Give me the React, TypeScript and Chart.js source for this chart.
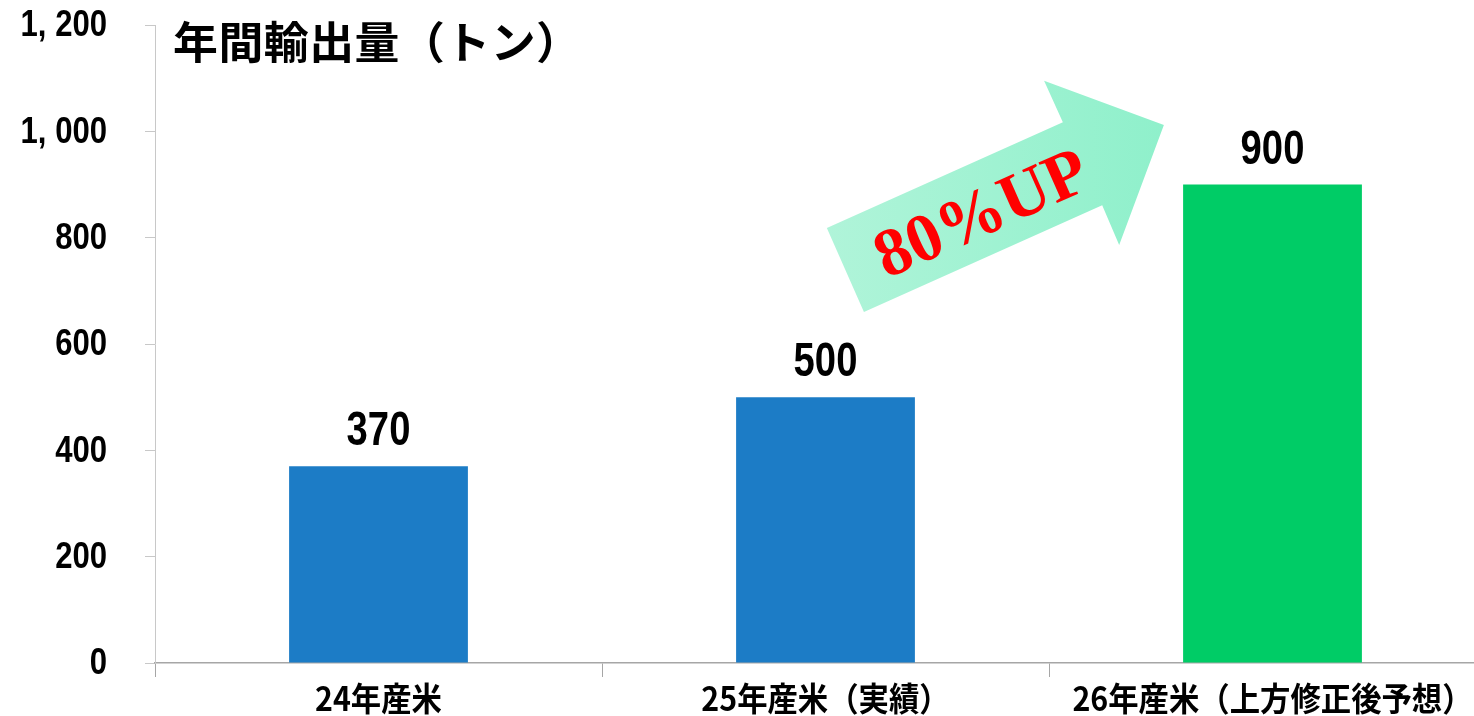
import React, { useEffect, useRef } from "react";
import { Chart, registerables } from "chart.js";
Chart.register(...registerables);

const categories = ["24年産米", "25年産米（実績）", "26年産米（上方修正後予想）"];
const exportTons = [370, 500, 900];
const barColors = ["#1c7cc6", "#1c7cc6", "#00cc66"];
const yTicks = [0, 200, 400, 600, 800, 1000, 1200];
const titleText = "年間輸出量（トン）";
const arrowText = "80%UP";
// arrow outline, in (category index, value) units
const arrowX = [1.003, 1.086, 1.619, 1.657, 1.757, 1.489, 1.531];
const arrowY = [818, 660, 861, 786, 1012, 1095, 1017];
const arrowTextPos = [1.352, 839];

const SANS = "'Liberation Sans', Arial, sans-serif";
const CJK = "'Noto Sans CJK JP', 'Noto Sans CJK SC', sans-serif";

function fmt(v: number): string {
  if (v >= 1000) return `${Math.floor(v / 1000)}, ${String(v % 1000).padStart(3, "0")}`;
  return String(v);
}

function narrowText(ctx: CanvasRenderingContext2D, text: string, x: number, y: number, sx: number) {
  ctx.save();
  ctx.translate(x, y);
  ctx.scale(sx, 1);
  ctx.fillText(text, 0, 0);
  ctx.restore();
}

const overlay = {
  id: "overlay",
  afterDatasetsDraw(chart: any) {
    const ctx = chart.ctx as CanvasRenderingContext2D;
    const xs = chart.scales.x;
    const ys = chart.scales.y;
    const area = chart.chartArea;
    ctx.save();
    ctx.fillStyle = "#000";

    // y tick labels (narrow digits)
    ctx.textAlign = "right";
    ctx.textBaseline = "middle";
    ctx.font = `bold 37px ${SANS}`;
    yTicks.forEach((v) => {
      narrowText(ctx, fmt(v), area.left - 48, ys.getPixelForValue(v) + 1, 0.84);
    });

    // value labels
    ctx.textAlign = "center";
    ctx.textBaseline = "alphabetic";
    ctx.font = `bold 49px ${SANS}`;
    const meta = chart.getDatasetMeta(0);
    meta.data.forEach((bar: any, i: number) => {
      narrowText(ctx, String(exportTons[i]), bar.x, bar.y - 21, 0.78);
    });

    // x labels (compressed CJK)
    ctx.textBaseline = "middle";
    ctx.font = `bold 33px ${CJK}`;
    categories.forEach((c, i) => {
      narrowText(ctx, c, xs.getPixelForValue(i), area.bottom + 35, 0.92);
    });

    // title
    ctx.textAlign = "left";
    ctx.font = `bold 44px ${CJK}`;
    (ctx as any).letterSpacing = "0px";
    ctx.save();
    ctx.translate(area.left + 18, area.top + 17);
    ctx.scale(1.02, 1);
    let tx = 0;
    for (const ch of titleText) {
      ctx.fillText(ch, tx, 0);
      tx += ctx.measureText(ch).width + 0.5;
    }
    ctx.restore();

    // arrow
    const pts = arrowX.map((a, i) => [xs.getPixelForValue(a), ys.getPixelForValue(arrowY[i])]);
    const minX = Math.min(...pts.map((p) => p[0]));
    const maxX = Math.max(...pts.map((p) => p[0]));
    const g = ctx.createLinearGradient(minX, 0, maxX, 0);
    g.addColorStop(0, "#b0f4d9");
    g.addColorStop(1, "#8ff0cb");
    ctx.fillStyle = g;
    ctx.beginPath();
    pts.forEach((p, i) => (i === 0 ? ctx.moveTo(p[0], p[1]) : ctx.lineTo(p[0], p[1])));
    ctx.closePath();
    ctx.fill();

    // arrow text
    ctx.save();
    ctx.translate(xs.getPixelForValue(arrowTextPos[0]), ys.getPixelForValue(arrowTextPos[1]));
    ctx.rotate((-24 * Math.PI) / 180);
    ctx.fillStyle = "#ff0000";
    ctx.textAlign = "center";
    ctx.textBaseline = "middle";
    ctx.font = `bold 68px 'Liberation Serif', 'DejaVu Serif', serif`;
    ctx.fillText(arrowText, 0, 0);
    ctx.restore();
    ctx.restore();
  },
};

export default function App() {
  const ref = useRef<HTMLCanvasElement>(null);
  useEffect(() => {
    if (!ref.current) return;
    const chart = new Chart(ref.current, {
      type: "bar",
      data: {
        labels: categories,
        datasets: [
          {
            data: exportTons,
            backgroundColor: barColors,
            barPercentage: 0.4,
            categoryPercentage: 1,
          },
        ],
      },
      options: {
        animation: false,
        responsive: false,
        maintainAspectRatio: false,
        layout: { padding: { top: 25, right: 4, left: 0, bottom: 0 } },
        plugins: { legend: { display: false }, tooltip: { enabled: false } },
        scales: {
          x: {
            grid: { display: true, drawOnChartArea: false, drawTicks: true, tickLength: 14, color: "#a6a6a6", offset: true },
            border: { color: "#a6a6a6", width: 1.5 },
            ticks: { display: false },
            afterFit: (s: any) => {
              s.height = 53;
            },
          },
          y: {
            min: 0,
            max: 1200,
            afterBuildTicks: (s: any) => {
              s.ticks = yTicks.map((v) => ({ value: v }));
            },
            grid: { drawOnChartArea: false, tickLength: 10, color: "#c8c8c8" },
            border: { color: "#c8c8c8" },
            ticks: { display: false },
            afterFit: (s: any) => {
              s.width = 155;
            },
          },
        },
      },
      plugins: [overlay],
    } as any);
    return () => chart.destroy();
  }, []);
  return (
    <div style={{ position: "fixed", left: 0, top: 0, width: 1474, height: 716, overflow: "hidden", background: "#fff" }}>
      <canvas ref={ref} width={1500} height={716} style={{ display: "block" }} />
    </div>
  );
}
